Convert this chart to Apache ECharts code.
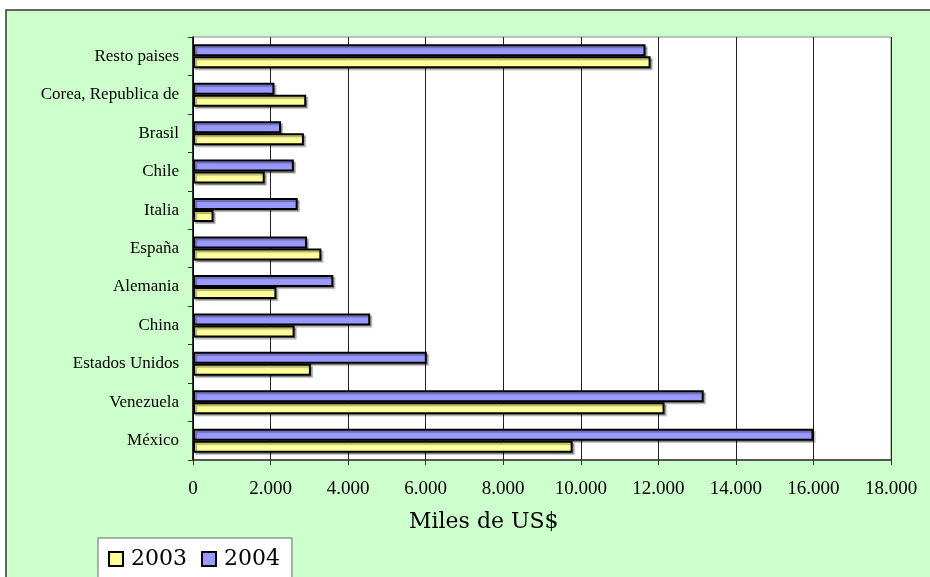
<!DOCTYPE html>
<html>
<head>
<meta charset="utf-8">
<script src="https://cdn.jsdelivr.net/npm/echarts@6/dist/echarts.min.js"></script>
<style>
  html, body { margin: 0; padding: 0; background: #fff; }
  #chart { width: 930px; height: 577px; }
</style>
</head>
<body>
<div id="chart"></div>
<script>
// categories bottom-up (echarts y category axis starts at the bottom)
var paises = ['México', 'Venezuela', 'Estados Unidos', 'China', 'Alemania', 'España',
              'Italia', 'Chile', 'Brasil', 'Corea, Republica de', 'Resto paises']
var valores2003 = [9790, 12160, 3040, 2620, 2150, 3310, 530, 1850, 2860, 2920, 11800]
var valores2004 = [16000, 13170, 6030, 4570, 3620, 2940, 2700, 2600, 2270, 2100, 11670]
var xTicks = { min: 0, max: 18000, interval: 2000 }

var myChart = echarts.init(document.getElementById('chart'))

// thousands with a dot, like the original sheet
function miles(v) {
    return String(v).replace(/\B(?=(\d{3})+(?!\d))/g, '.')
}

function barSeries(name, color, values) {
    return {
        name: name,
        type: 'bar',
        barWidth: 12,
        barGap: '0%',
        animation: false,
        itemStyle: {
            color: color,
            borderColor: '#000',
            borderWidth: 2,
            shadowColor: 'rgba(0,0,0,0.3)',
            shadowOffsetX: 2,
            shadowOffsetY: 2,
            shadowBlur: 1
        },
        data: values
    }
}

myChart.setOption({
    backgroundColor: '#fff',
    graphic: [
        {
            type: 'rect',
            z: -10,
            shape: { x: 6, y: 10, width: 1000, height: 1000 },
            style: { fill: '#CCFFCC', stroke: '#333', lineWidth: 1.5 }
        },
        {
            type: 'text',
            left: 409,
            top: 511,
            style: {
                text: 'Miles de US$',
                fontFamily: 'DejaVu Serif',
                fontSize: 22,
                fill: '#000'
            }
        }
    ],
    legend: {
        data: ['2003', '2004'],
        left: 98,
        top: 538,
        orient: 'horizontal',
        backgroundColor: '#fff',
        borderColor: '#666',
        borderWidth: 1,
        borderRadius: 0,
        padding: [10, 12, 12, 10],
        itemWidth: 14,
        itemHeight: 14,
        itemGap: 14,
        icon: 'rect',
        textStyle: {
            fontFamily: 'DejaVu Serif',
            fontSize: 22,
            color: '#000',
            padding: [0, 0, 0, 3]
        }
    },
    grid: {
        left: 193,
        right: 39,
        top: 37,
        bottom: 117,
        show: true,
        backgroundColor: '#fff',
        borderColor: '#888',
        borderWidth: 1,
        containLabel: false
    },
    xAxis: {
        type: 'value',
        min: xTicks.min,
        max: xTicks.max,
        interval: xTicks.interval,
        axisLine: { show: true, lineStyle: { color: '#333', width: 1.5 } },
        axisTick: { show: true, length: 5, lineStyle: { color: '#333' } },
        splitLine: { show: true, lineStyle: { color: '#222', width: 1 } },
        axisLabel: {
            margin: 20,
            fontFamily: 'Liberation Serif',
            fontSize: 19,
            color: '#000',
            formatter: miles
        }
    },
    yAxis: {
        type: 'category',
        data: paises,
        axisLine: { show: true, lineStyle: { color: '#000', width: 1.5 } },
        axisTick: { show: true, length: 5, lineStyle: { color: '#333' } },
        splitLine: { show: false },
        axisLabel: {
            margin: 14,
            fontFamily: 'Liberation Serif',
            fontSize: 17,
            color: '#000'
        }
    },
    // 2004 first so that it sits above 2003 inside each band
    series: [
        barSeries('2004', '#9999FF', valores2004),
        barSeries('2003', '#FFFF99', valores2003)
    ]
})
</script>
</body>
</html>
